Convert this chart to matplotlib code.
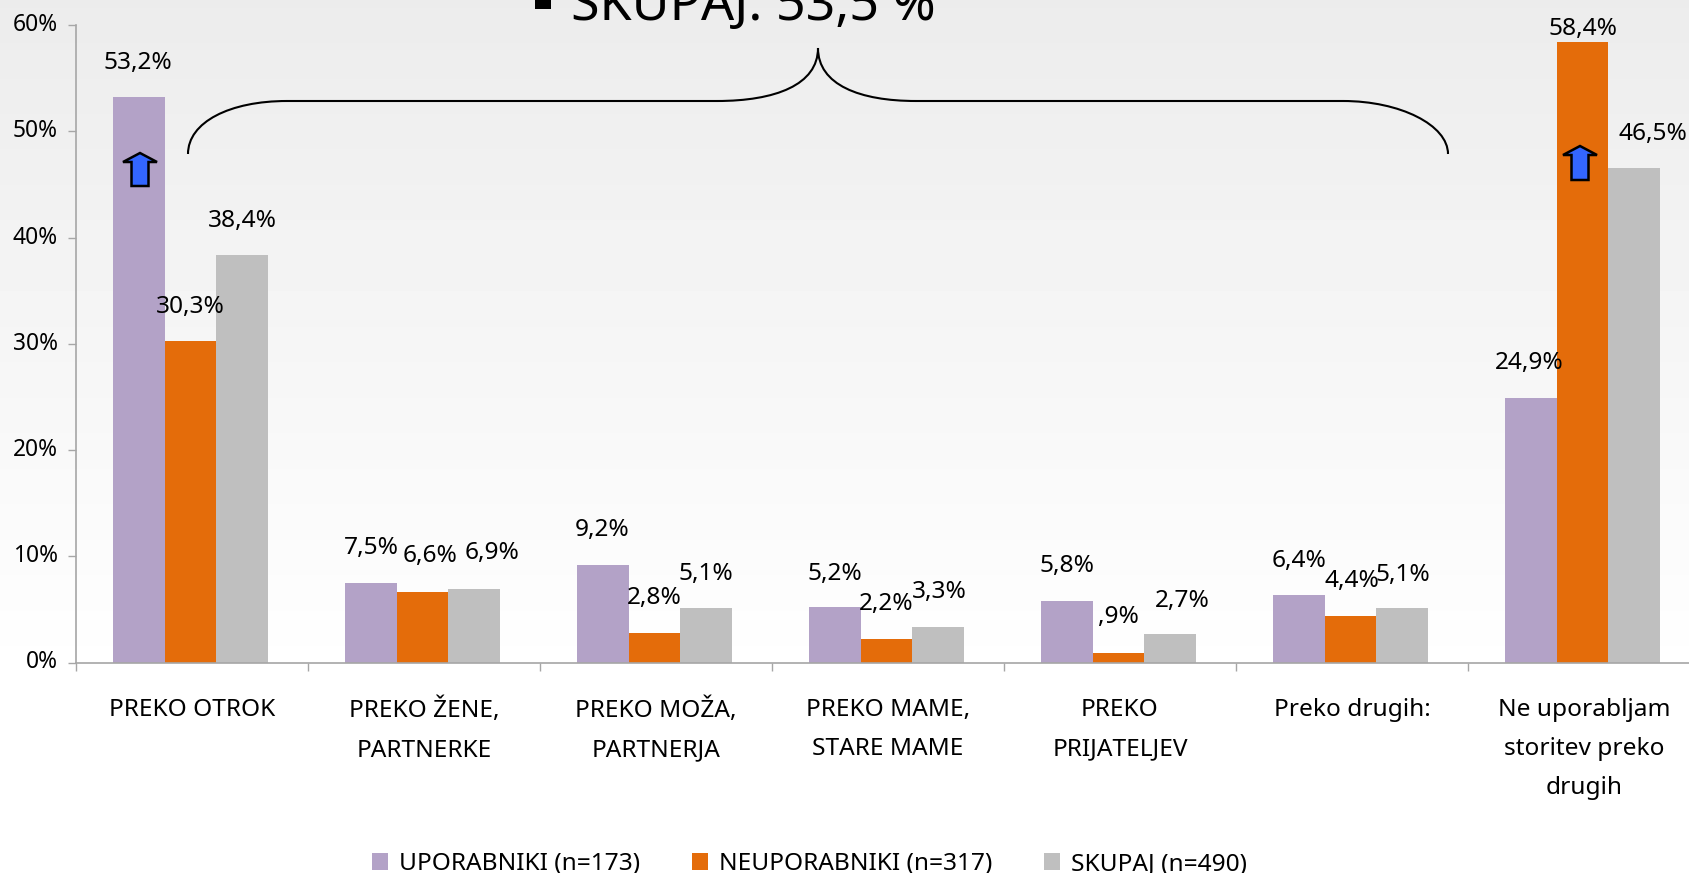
import numpy as np
import matplotlib
matplotlib.use("Agg")
import matplotlib.pyplot as plt
from matplotlib.patches import PathPatch, Polygon, Rectangle, Patch
from matplotlib.path import Path
from matplotlib.transforms import Affine2D

categories = ["PREKO OTROK", "PREKO ŽENE,\nPARTNERKE", "PREKO MOŽA,\nPARTNERJA", "PREKO MAME,\nSTARE MAME",
              "PREKO\nPRIJATELJEV", "Preko drugih:", "Ne uporabljam\nstoritev preko\ndrugih"]
uporabniki = [53.2, 7.5, 9.2, 5.2, 5.8, 6.4, 24.9]
neuporabniki = [30.3, 6.6, 2.8, 2.2, 0.9, 4.4, 58.4]
skupaj = [38.4, 6.9, 5.1, 3.3, 2.7, 5.1, 46.5]
labels_u = ["53,2%", "7,5%", "9,2%", "5,2%", "5,8%", "6,4%", "24,9%"]
labels_n = ["30,3%", "6,6%", "2,8%", "2,2%", ",9%", "4,4%", "58,4%"]
labels_s = ["38,4%", "6,9%", "5,1%", "3,3%", "2,7%", "5,1%", "46,5%"]
series_names = ["UPORABNIKI (n=173)", "NEUPORABNIKI (n=317)", "SKUPAJ (n=490)"]
yticks = [0, 10, 20, 30, 40, 50, 60]

# label offsets from the bar top centre, in pixels
off_u = [(-1, 34), (0, 35), (-1, 35), (0, 33), (0, 35), (0, 33), (-2, 35)]
off_n = [(0, 34), (7, 36), (0, 35), (0, 35), (0, 36), (1, 35), (0, 13)]
off_s = [(0, 33), (18, 36), (0, 34), (1, 35), (12, 33), (1, 33), (19, 34)]

W, H = 1690, 873
BASE, TOP, LEFT, GROUP = 662.5, 25, 76, 232
plt.rcParams["font.family"] = ["Noto Sans", "DejaVu Sans"]
FS = 17.6
fig = plt.figure(figsize=(W / 100, H / 100), dpi=100, facecolor="white")
px = Affine2D().scale(1 / W, -1 / H).translate(0, 1) + fig.transFigure

# background gradient
bg = fig.add_axes([0, 0, 1, 1], zorder=0)
bg.axis("off")
grad = np.ones((H, 1))
grad[:682, 0] = np.linspace(0.925, 1.0, 682)
bg.imshow(grad, aspect="auto", cmap="gray", vmin=0, vmax=1, extent=[0, 1, 0, 1], origin="upper")

# axes run past the right edge of the picture, as in the reference
ax = fig.add_axes([LEFT / W, (H - BASE) / H, 7 * GROUP / W, (BASE - TOP) / H], zorder=1)
ax.patch.set_alpha(0)
x = np.arange(len(categories))
bw = 1 / 4.5
colors = ["#B3A2C7", "#E46C0A", "#BFBFBF"]
series = [uporabniki, neuporabniki, skupaj]
all_labels = [labels_u, labels_n, labels_s]
offs = [off_u, off_n, off_s]
for k in range(3):
    xs = x + (k - 1) * bw - 0.006
    ax.bar(xs, series[k], width=bw, color=colors[k], linewidth=0)
    for xi, v, lab, (dx, dy) in zip(xs, series[k], all_labels[k], offs[k]):
        ax.annotate(lab, (xi, v), xytext=(dx, dy), textcoords="offset pixels",
                    ha="center", va="center", fontsize=FS, color="black", annotation_clip=False)

ax.set_xlim(-0.5, 6.5)
ax.set_ylim(0, 60)
ax.set_yticks(yticks)
ax.set_yticklabels([f"{t}%" for t in yticks], fontsize=16.4)
ax.set_xticks(np.arange(0, 8) - 0.5)
ax.set_xticklabels([])
ax.set_xticks(x, minor=True)
ax.set_xticklabels(categories, minor=True, fontsize=FS, linespacing=1.84, va="top")
ax.tick_params(axis="x", which="minor", length=0, pad=25.5)
ax.tick_params(axis="x", which="major", length=6, width=1, color="#a6a6a6")
ax.tick_params(axis="y", length=6, width=1, color="#a6a6a6", pad=7)
for t in ax.get_yticklabels():
    t.set_transform(t.get_transform() + Affine2D().translate(0, 3))
for s in ["top", "right"]:
    ax.spines[s].set_visible(False)
for s in ["left", "bottom"]:
    ax.spines[s].set_color("#a6a6a6")
    ax.spines[s].set_linewidth(1.2)

# brace
verts = [(188, 154), (188, 122), (230, 101), (287, 101), (717, 101), (717, 101),
         (717, 101), (775, 101), (818, 85), (818, 48),
         (818, 85), (860, 101), (916, 101), (916, 101), (1343, 101), (1343, 101),
         (1400, 101), (1448, 125), (1448, 154)]
codes = [Path.MOVETO] + [Path.CURVE4] * 18
fig.add_artist(PathPatch(Path(verts, codes), fc="none", ec="black", lw=1.5, transform=px))

# arrows
def arrow(tip, head_y, half_head, half_shaft, bottom):
    cx, ty = tip
    pts = [(cx, ty), (cx + half_head, head_y), (cx + half_shaft, head_y), (cx + half_shaft, bottom),
           (cx - half_shaft, bottom), (cx - half_shaft, head_y), (cx - half_head, head_y)]
    fig.add_artist(Polygon(pts, closed=True, fc="#3366FF", ec="black", lw=1.8, transform=px, zorder=5))

arrow((140, 153), 162, 17, 8.5, 186)
arrow((1580, 146), 155, 17, 8.5, 180)

# heading cut by the top edge
fig.add_artist(Rectangle((535, 0), 16, 9, fc="black", ec="none", transform=px))
fig.text(571 / W, 1 - 20 / H, "SKUPAJ: 53,5 %", fontsize=37.4, ha="left", va="baseline", color="black")

# legend
handles = [Patch(color=c, linewidth=0) for c in colors]
leg = fig.legend(handles, series_names, ncol=3, frameon=False, fontsize=FS,
                 loc="center", bbox_to_anchor=(809.5 / W, 1 - 864 / H),
                 handlelength=0.68, handleheight=0.68, handletextpad=0.44, columnspacing=2.1,
                 borderpad=0, borderaxespad=0)

fig.savefig("out.png", dpi=100)
